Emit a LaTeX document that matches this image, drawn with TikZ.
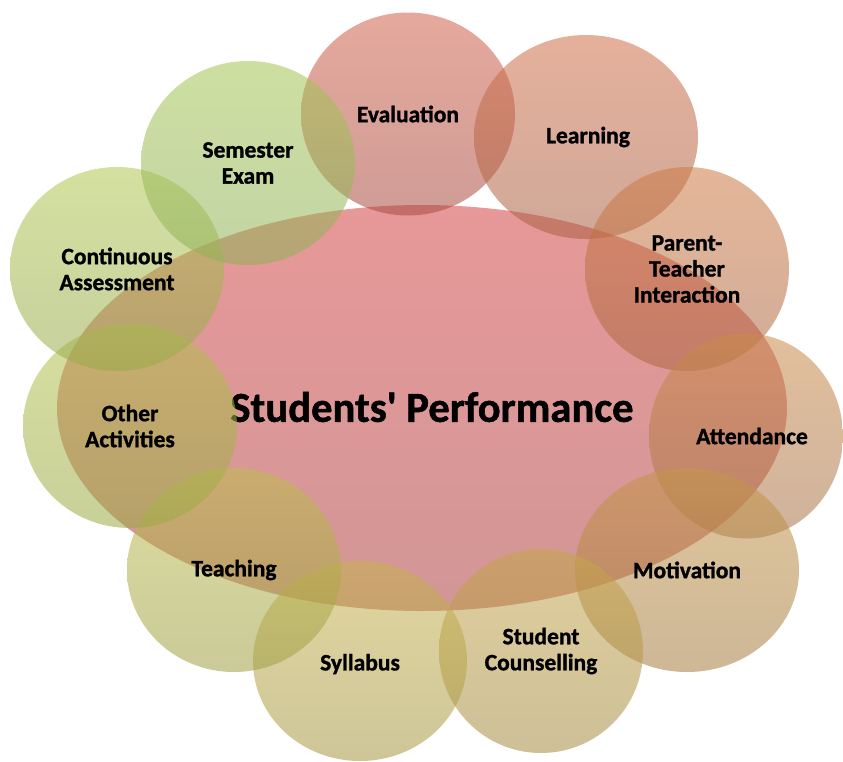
\documentclass[tikz,border=0pt]{standalone}
\usepackage{fontspec}
\setmainfont{Carlito}[BoldFeatures={FakeBold=1.2}]
\usetikzlibrary{shapes.geometric}
\definecolor{mainT}{RGB}{231,152,152}\definecolor{mainB}{RGB}{210,150,150}
\definecolor{evT}{RGB}{208,97,75}\definecolor{evB}{RGB}{168,75,64}
\definecolor{leT}{RGB}{208,111,73}\definecolor{leB}{RGB}{168,97,68}
\definecolor{paT}{RGB}{206,122,68}\definecolor{paB}{RGB}{171,104,68}
\definecolor{atT}{RGB}{202,139,73}\definecolor{atB}{RGB}{166,115,75}
\definecolor{moT}{RGB}{197,150,73}\definecolor{moB}{RGB}{164,124,64}
\definecolor{scT}{RGB}{199,166,75}\definecolor{scB}{RGB}{164,139,66}
\definecolor{syT}{RGB}{200,180,79}\definecolor{syB}{RGB}{166,151,68}
\definecolor{teT}{RGB}{190,190,79}\definecolor{teB}{RGB}{160,159,68}
\definecolor{otT}{RGB}{181,195,79}\definecolor{otB}{RGB}{155,170,70}
\definecolor{coT}{RGB}{177,199,82}\definecolor{coB}{RGB}{150,170,75}
\definecolor{seT}{RGB}{164,197,82}\definecolor{seB}{RGB}{144,177,90}
\tikzset{
  blob/.style n args={4}{ellipse, inner sep=0pt, minimum width=#1, minimum height=#2,
    top color=#3, bottom color=#4, draw=none, fill opacity=0.55},
  lbl/.style={font=\fontsize{23.5}{26}\selectfont\bfseries, align=center, text=black},
}
\begin{document}
\begin{tikzpicture}[x=1pt,y=-1pt]
\useasboundingbox (0,0) rectangle (843,761);
\node[ellipse, inner sep=0pt, minimum width=730pt, minimum height=406pt,
  top color=mainT, bottom color=mainB, draw=none] (main) at (422,408) {};
\node[lbl, font=\fontsize{42.6}{50}\selectfont\bfseries] (tmain) at ([xshift=10pt,yshift=1pt]main.center) {Students\textquotesingle{} Performance};
\node[blob={214pt}{203pt}{evT}{evB}] (ev) at (408,114) {};
\node[blob={224pt}{204pt}{leT}{leB}] (le) at (586,137) {};
\node[blob={204pt}{204pt}{paT}{paB}] (pa) at (687,269) {};
\node[blob={194pt}{205pt}{atT}{atB}] (at) at (746,436) {};
\node[blob={224pt}{204pt}{moT}{moB}] (mo) at (687,570) {};
\node[blob={204pt}{204pt}{scT}{scB}] (sc) at (541,651) {};
\node[blob={214pt}{200pt}{syT}{syB}] (sy) at (360,661) {};
\node[blob={214pt}{204pt}{teT}{teB}] (te) at (234,570) {};
\node[blob={214pt}{204pt}{otT}{otB}] (ot) at (130,426) {};
\node[blob={214pt}{204pt}{coT}{coB}] (co) at (117,269) {};
\node[blob={214pt}{204pt}{seT}{seB}] (se) at (248,163) {};
\node[lbl] (tev) at ([yshift=0pt]ev.center) {Evaluation};
\node[lbl] (tle) at ([xshift=2pt]le.center) {Learning};
\node[lbl] (tpa) at (pa.center) {Parent-\\Teacher\\Interaction};
\node[lbl] (tat) at ([xshift=6pt]at.center) {Attendance};
\node[lbl] (tmo) at (mo.center) {Motivation};
\node[lbl] (tsc) at (sc.center) {Student\\Counselling};
\node[lbl] (tsy) at ([yshift=-3pt]sy.center) {Syllabus};
\node[lbl] (tte) at (te.center) {Teaching};
\node[lbl] (tot) at (ot.center) {Other\\Activities};
\node[lbl] (tco) at (co.center) {Continuous\\Assessment};
\node[lbl] (tse) at (se.center) {Semester\\Exam};
\end{tikzpicture}
\end{document}
